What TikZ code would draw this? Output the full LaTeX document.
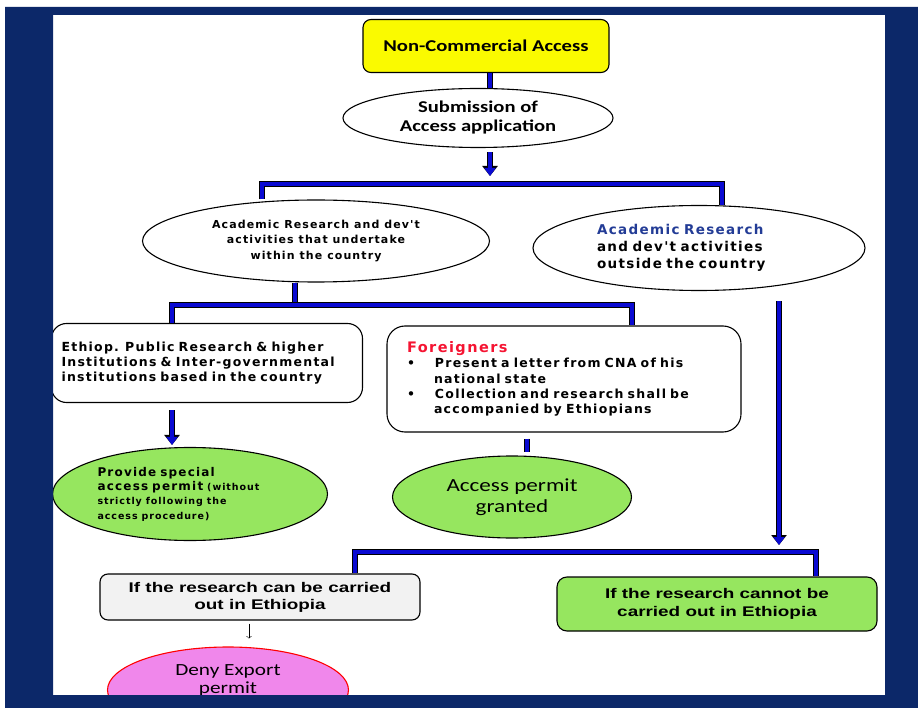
\documentclass[tikz,border=0pt]{standalone}
\usepackage{fontspec}
\setmainfont[FakeStretch=1.25]{Carlito}
\newfontfamily\blackfont[LetterSpace=10]{DejaVu Sans}
\newfontfamily\arialfont[FakeStretch=1.35]{Liberation Sans}
\usetikzlibrary{shapes.geometric,arrows.meta}
\definecolor{framebg}{RGB}{12,40,105}
\definecolor{linkblue}{RGB}{10,10,210}
\definecolor{boxyellow}{RGB}{250,250,0}
\definecolor{boxgreen}{RGB}{150,230,95}
\definecolor{boxgray}{RGB}{242,242,242}
\definecolor{boxpink}{RGB}{240,135,235}
\definecolor{headred}{RGB}{245,20,50}
\definecolor{headblue}{RGB}{35,60,150}

\begin{document}
\begin{tikzpicture}[x=1pt,y=-1pt,
    oval/.style={ellipse,draw,line width=1.1pt,inner sep=0pt},
    card/.style={rectangle,draw,line width=1.1pt,inner sep=0pt},
    bus/.style={draw=black,line width=0.8pt,double=linkblue,double distance=3.6pt},
    bigarrow/.style={draw=linkblue,line width=3.6pt,-{Triangle[length=8pt,width=11pt]},
        preaction={draw=black,line width=5.4pt,-{Triangle[length=10pt,width=15pt]}}}]
    \useasboundingbox (0,0) rectangle (918,708);

    % boxes
    \node[card,rounded corners=8pt,fill=boxyellow,minimum width=246pt,minimum height=53pt,
        font=\fontsize{16.5}{20}\selectfont\bfseries] (nca) at (486,46) {Non-Commercial Access};
    \node[oval,fill=white,minimum width=270pt,minimum height=59pt,align=center,
        font=\fontsize{16.5}{19}\selectfont\bfseries] (sub) at (478,118) {Submission of\\ Access application};
    \node[oval,minimum width=347pt,minimum height=82pt,align=center,
        font=\fontsize{11}{15.5}\selectfont\blackfont\bfseries] (within) at (316,241)
        {Academic Research and dev't\\ activities that undertake\\ within the country};
    \node[oval,minimum width=332pt,minimum height=85pt,text width=204pt,align=left,
        font=\fontsize{13.5}{17}\selectfont\blackfont\bfseries] (outside) at (699,248)
        {\textcolor{headblue}{Academic Research}\\ and dev't activities\\ outside the country};
    \node[card,rounded corners=15pt,minimum width=311pt,minimum height=79pt,text width=291pt,align=left,
        font=\fontsize{12.5}{15}\selectfont\blackfont\bfseries] (ethiop) at (207,363)
        {Ethiop. Public Research \& higher\\ Institutions \& Inter-governmental\\ institutions based in the country};
    \node[card,rounded corners=18pt,minimum width=354pt,minimum height=106pt,text width=314pt,align=left,
        font=\fontsize{12.5}{15.3}\selectfont\blackfont\bfseries] (foreign) at (564,379)
        {{\fontsize{14.5}{15.3}\selectfont\textcolor{headred}{Foreigners}}\\
        \textbullet\hspace{20pt}Present a letter from CNA of his\\
        \hspace{27pt}national state\\
        \textbullet\hspace{20pt}Collection and research shall be\\
        \hspace{27pt}accompanied by Ethiopians};
    \node[oval,fill=boxgreen,minimum width=275pt,minimum height=93pt,text width=185pt,align=left,
        font=\fontsize{12}{15}\selectfont\blackfont\bfseries] (special) at (190,494)
        {Provide special\\
        access permit {\fontsize{9.5}{14}\selectfont(without\\ strictly following the\\ access procedure)}};
    \node[oval,fill=boxgreen,minimum width=239pt,minimum height=82pt,align=center,
        font=\fontsize{18.5}{21}\selectfont] (granted) at (512,497) {Access permit\\ granted};
    \node[card,rounded corners=8pt,fill=boxgray,minimum width=320pt,minimum height=46pt,align=center,
        font=\fontsize{14}{17}\selectfont\arialfont\bfseries] (can) at (260,597)
        {If the research can be carried\\ out in Ethiopia};
    \node[card,rounded corners=10pt,fill=boxgreen,minimum width=320pt,minimum height=54pt,align=center,
        font=\fontsize{14}{18}\selectfont\arialfont\bfseries] (cannot) at (717,604)
        {If the research cannot be\\ carried out in Ethiopia};
    \node[oval,draw=red,fill=boxpink,minimum width=241pt,minimum height=86pt,align=center,
        font=\fontsize{17}{18}\selectfont] (deny) at (228,690) {Deny Export\\ permit\\[4pt]};

    % bus bars
    \coordinate (b1) at (490,184);
    \coordinate (b1l) at (262,184);
    \coordinate (b1r) at (722,184);
    \coordinate (b2) at (295,305);
    \coordinate (b2l) at (172,305);
    \coordinate (b2r) at (632,305);
    \coordinate (b3) at (779,552);
    \coordinate (b3l) at (355,552);
    \coordinate (b3r) at (816,552);

    \draw[bus] (nca.south -| b1) -- (sub.north -| b1);
    \draw[bigarrow,shorten <=4pt,shorten >=8pt] (sub.south -| b1) -- (b1);
    \draw[bus] (b1l |- within.north) -- (b1l) -- (b1r) -- (b1r |- outside.north);
    \draw[bus] (within.south -| b2) -- (b2);
    \draw[bus] (ethiop.north -| b2l) -- (b2l) -- (b2r) -- (b2r |- foreign.north);
    \draw[bigarrow,shorten <=7pt,shorten >=2pt] (ethiop.south -| b2l) -- (special.north -| b2l);
    \draw[bus,shorten <=6pt,shorten >=3pt] (foreign.south -| 527,0) -- (granted.north -| 527,0);
    \draw[bigarrow,shorten <=10pt,shorten >=7pt] (outside.south -| b3) -- (b3);
    \draw[bus] (can.north -| b3l) -- (b3l) -- (b3r) -- (b3r |- cannot.north);
    \draw[->,shorten <=3pt,shorten >=8pt] (can.south -| 249,0) -- (deny.north -| 249,0);

    % frame
    \fill[framebg,even odd rule] (5,7) rectangle (918,708) (53,15) rectangle (885,695);
\end{tikzpicture}
\end{document}
